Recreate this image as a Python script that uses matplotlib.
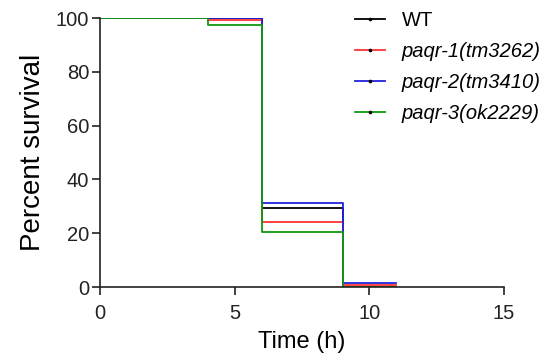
import matplotlib.pyplot as plt
from matplotlib.lines import Line2D

plt.rcParams['font.family'] = ['Liberation Sans', 'DejaVu Sans']

times = [0, 4, 6, 9, 11]
wt = [100, 100, 29.3, 0, 0]
paqr1 = [100, 99.2, 24.3, 0.6, 0.6]
paqr2 = [100, 100, 31.2, 1.6, 1.6]
paqr3 = [100, 97.4, 20.3, 0, 0]

labels = ['WT', 'paqr-1(tm3262)', 'paqr-2(tm3410)', 'paqr-3(ok2229)']
colors = ['#000000', '#ff3333', '#2222dd', '#119911']
series = [wt, paqr1, paqr2, paqr3]

fig = plt.figure(figsize=(5.57, 3.62), dpi=100)
ax = fig.add_axes([0.180, 0.207, 0.725, 0.743])

for vals, lab, c in zip(series, labels, colors):
    ax.step(times, vals, where='post', color=c, lw=1.3, label=lab)

ax.set_xlim(0, 15)
ax.set_ylim(0, 100)
ax.set_xticks([0, 5, 10, 15])
ax.set_yticks([0, 20, 40, 60, 80, 100])
ax.spines['top'].set_visible(False)
ax.spines['right'].set_visible(False)
for s in ['left', 'bottom']:
    ax.spines[s].set_linewidth(1.2)
    ax.spines[s].set_color('#222222')
ax.tick_params(direction='out', length=6, width=1.2, labelsize=14.5, colors='#222222')
ax.tick_params(axis='x', pad=6)
ax.tick_params(axis='y', pad=2)
ax.set_xlabel('Time (h)', fontsize=17, labelpad=6)
ax.set_ylabel('Percent survival', fontsize=20, labelpad=7)

handles = []
for lab, c in zip(labels, colors):
    handles.append(Line2D([0], [0], color=c, lw=1.3, marker='o', markersize=1.6,
                          markerfacecolor='black', markeredgecolor='black'))
leg = ax.legend(handles, labels, loc='upper left', bbox_to_anchor=(0.585, 1.095),
                frameon=False, fontsize=14.5, handlelength=1.5, handletextpad=0.85,
                labelspacing=0.6)
for i, t in enumerate(leg.get_texts()):
    if i > 0:
        t.set_style('italic')

fig.savefig('out.png', dpi=100)
